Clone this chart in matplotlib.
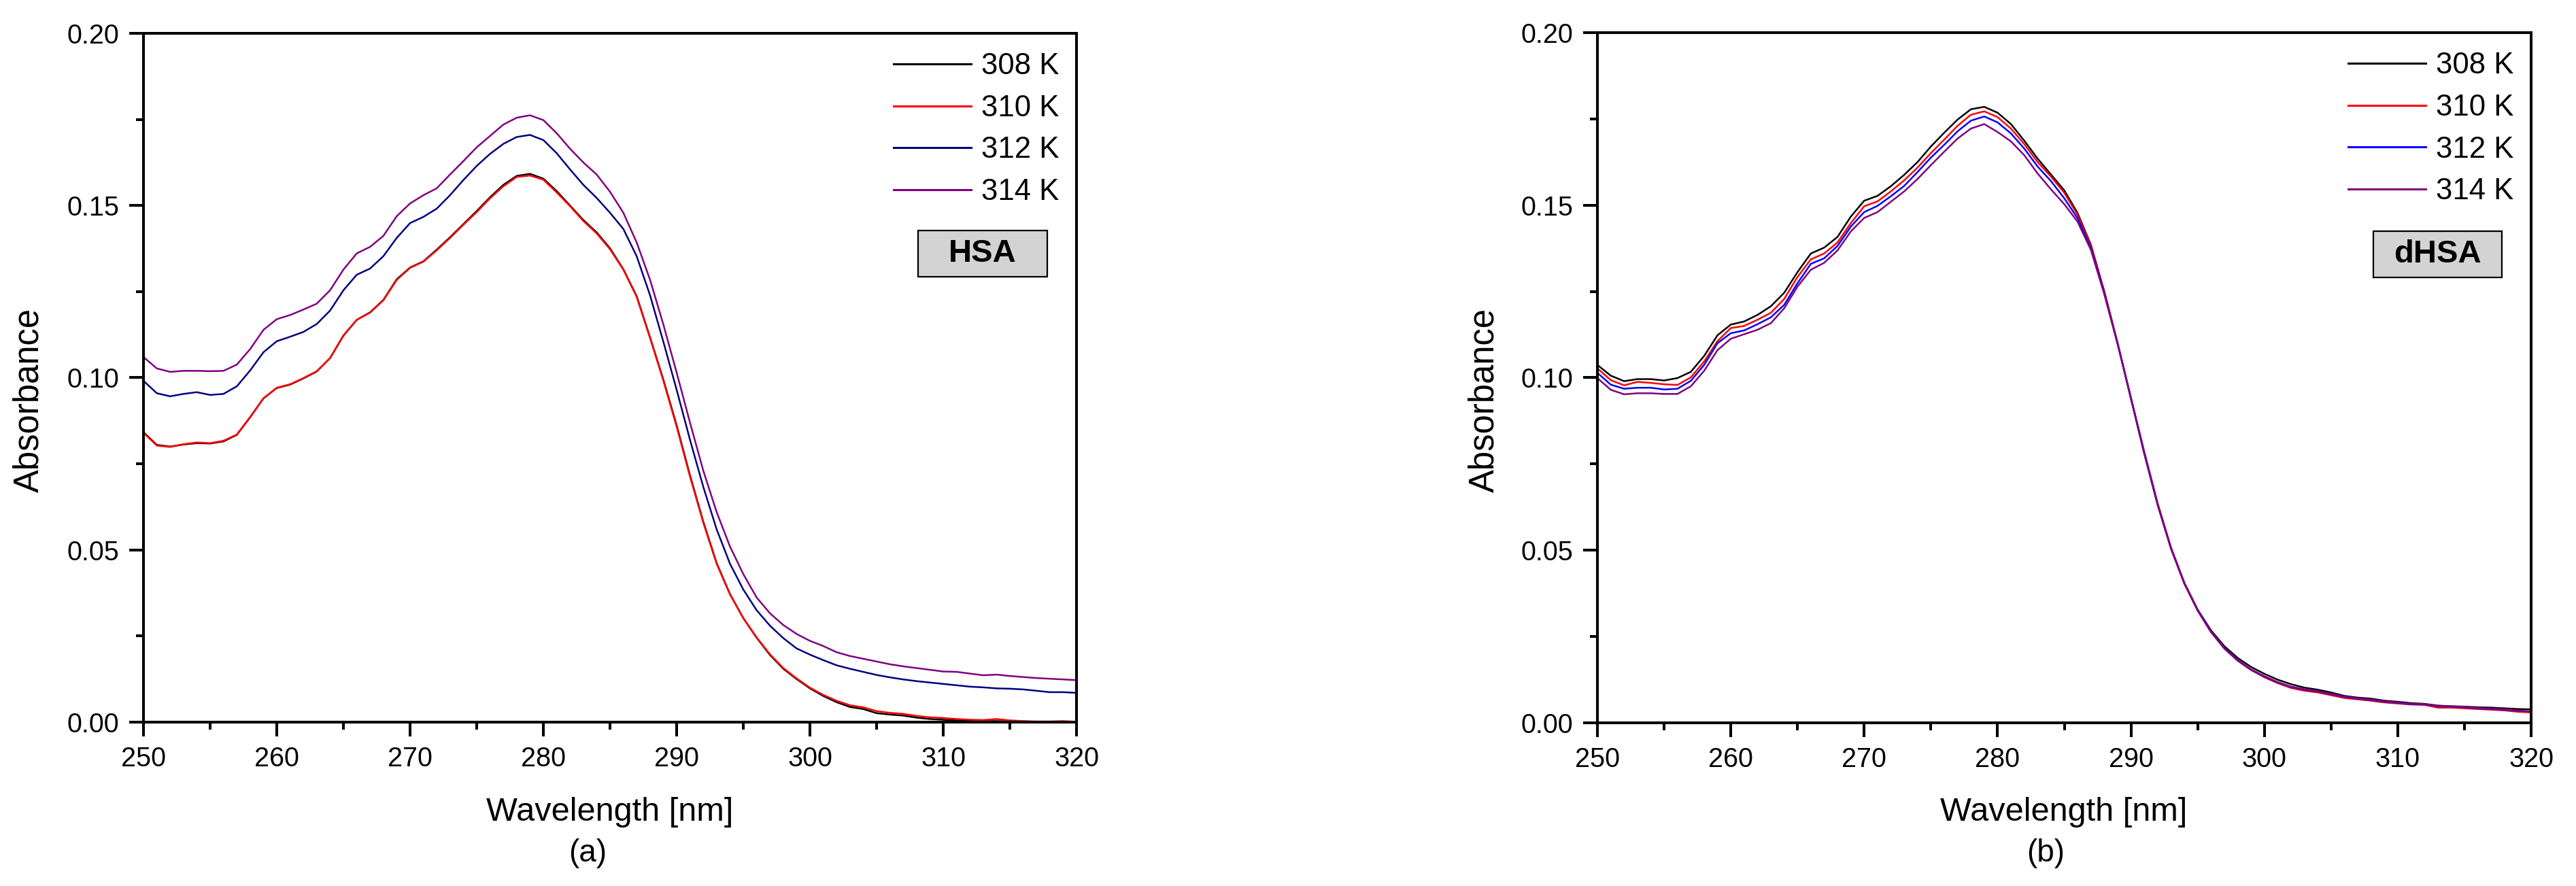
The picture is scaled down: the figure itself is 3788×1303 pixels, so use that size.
import numpy as np
import matplotlib
matplotlib.use("Agg")
import matplotlib.pyplot as plt
from matplotlib.ticker import MultipleLocator, FormatStrFormatter
from matplotlib.patches import Rectangle

plt.rcParams['font.family'] = ['Liberation Sans', 'DejaVu Sans']

wavelength = np.arange(250, 321)
labels = ["308 K", "310 K", "312 K", "314 K"]

hsa_308 = [0.0842, 0.0805, 0.0800, 0.0806, 0.0810, 0.0809, 0.0815, 0.0834, 0.0885, 0.0940,
           0.0970, 0.0980, 0.0998, 0.1018, 0.1057, 0.1122, 0.1168, 0.1190, 0.1226, 0.1286,
           0.1320, 0.1338, 0.1372, 0.1408, 0.1446, 0.1484, 0.1524, 0.1560, 0.1586, 0.1592,
           0.1578, 0.1542, 0.1500, 0.1458, 0.1422, 0.1376, 0.1315, 0.1237, 0.1118, 0.0995,
           0.0862, 0.0717, 0.0582, 0.0462, 0.0372, 0.0302, 0.0245, 0.0195, 0.0155, 0.0125,
           0.0098, 0.0076, 0.0058, 0.0044, 0.0038, 0.0026, 0.0022, 0.0019, 0.0013, 0.0009,
           0.0007, 0.0005, 0.0004, 0.0003, 0.0003, 0.0002, 0.0002, 0.0001, 0.0001, 0.0001, 0.0000]
hsa_310 = [0.0840, 0.0803, 0.0799, 0.0807, 0.0812, 0.0810, 0.0817, 0.0835, 0.0886, 0.0940,
           0.0971, 0.0981, 0.0999, 0.1019, 0.1057, 0.1123, 0.1168, 0.1189, 0.1225, 0.1284,
           0.1319, 0.1337, 0.1370, 0.1406, 0.1444, 0.1481, 0.1521, 0.1556, 0.1583, 0.1587,
           0.1575, 0.1538, 0.1498, 0.1455, 0.1419, 0.1373, 0.1314, 0.1235, 0.1116, 0.0992,
           0.0858, 0.0713, 0.0579, 0.0460, 0.0371, 0.0302, 0.0246, 0.0197, 0.0157, 0.0127,
           0.0100, 0.0079, 0.0062, 0.0049, 0.0043, 0.0032, 0.0027, 0.0024, 0.0018, 0.0014,
           0.0012, 0.0009, 0.0007, 0.0006, 0.0009, 0.0005, 0.0003, 0.0002, 0.0002, 0.0003, 0.0001]
hsa_312 = [0.0991, 0.0955, 0.0946, 0.0953, 0.0958, 0.0950, 0.0953, 0.0975, 0.1021, 0.1074,
           0.1106, 0.1119, 0.1133, 0.1156, 0.1195, 0.1254, 0.1299, 0.1317, 0.1353, 0.1406,
           0.1449, 0.1467, 0.1491, 0.1530, 0.1574, 0.1615, 0.1650, 0.1679, 0.1699, 0.1705,
           0.1690, 0.1652, 0.1605, 0.1560, 0.1522, 0.1479, 0.1432, 0.1353, 0.1240, 0.1105,
           0.0965, 0.0820, 0.0683, 0.0560, 0.0460, 0.0385, 0.0325, 0.0280, 0.0244, 0.0214,
           0.0196, 0.0180, 0.0165, 0.0155, 0.0146, 0.0137, 0.0130, 0.0124, 0.0119, 0.0115,
           0.0111, 0.0107, 0.0103, 0.0101, 0.0098, 0.0097, 0.0095, 0.0091, 0.0087, 0.0087, 0.0085]
hsa_314 = [0.1060, 0.1027, 0.1017, 0.1020, 0.1020, 0.1019, 0.1020, 0.1038, 0.1083, 0.1139,
           0.1170, 0.1182, 0.1198, 0.1215, 0.1254, 0.1314, 0.1361, 0.1380, 0.1412, 0.1469,
           0.1506, 0.1530, 0.1550, 0.1590, 0.1629, 0.1669, 0.1702, 0.1735, 0.1755, 0.1762,
           0.1748, 0.1710, 0.1665, 0.1625, 0.1590, 0.1540, 0.1479, 0.1393, 0.1285, 0.1155,
           0.1015, 0.0870, 0.0730, 0.0610, 0.0510, 0.0430, 0.0362, 0.0316, 0.0282, 0.0256,
           0.0236, 0.0221, 0.0203, 0.0192, 0.0184, 0.0176, 0.0168, 0.0162, 0.0157, 0.0152,
           0.0147, 0.0146, 0.0141, 0.0136, 0.0138, 0.0134, 0.0131, 0.0128, 0.0126, 0.0124, 0.0122]

dhsa_308 = [0.1037, 0.1006, 0.0990, 0.0996, 0.0996, 0.0992, 0.0999, 0.1017, 0.1063, 0.1123,
            0.1154, 0.1163, 0.1182, 0.1207, 0.1246, 0.1306, 0.1360, 0.1377, 0.1408, 0.1467,
            0.1513, 0.1527, 0.1555, 0.1588, 0.1625, 0.1670, 0.1710, 0.1748, 0.1778, 0.1785,
            0.1768, 0.1735, 0.1687, 0.1635, 0.1589, 0.1543, 0.1477, 0.1385, 0.1250, 0.1100,
            0.0940, 0.0780, 0.0632, 0.0505, 0.0405, 0.0328, 0.0268, 0.0222, 0.0188, 0.0162,
            0.0142, 0.0125, 0.0112, 0.0102, 0.0096, 0.0088, 0.0078, 0.0073, 0.0070, 0.0064,
            0.0061, 0.0057, 0.0055, 0.0050, 0.0048, 0.0047, 0.0045, 0.0044, 0.0042, 0.0040, 0.0039]
dhsa_310 = [0.1027, 0.0993, 0.0978, 0.0988, 0.0985, 0.0981, 0.0979, 0.1001, 0.1047, 0.1106,
            0.1144, 0.1150, 0.1168, 0.1188, 0.1228, 0.1292, 0.1343, 0.1360, 0.1392, 0.1448,
            0.1497, 0.1511, 0.1540, 0.1572, 0.1609, 0.1651, 0.1690, 0.1730, 0.1762, 0.1772,
            0.1755, 0.1722, 0.1677, 0.1625, 0.1583, 0.1536, 0.1472, 0.1382, 0.1250, 0.1100,
            0.0940, 0.0780, 0.0632, 0.0505, 0.0403, 0.0325, 0.0263, 0.0215, 0.0180, 0.0153,
            0.0132, 0.0115, 0.0101, 0.0093, 0.0088, 0.0080, 0.0072, 0.0068, 0.0064, 0.0059,
            0.0056, 0.0053, 0.0052, 0.0044, 0.0044, 0.0042, 0.0040, 0.0038, 0.0036, 0.0032, 0.0030]
dhsa_312 = [0.1014, 0.0980, 0.0968, 0.0971, 0.0971, 0.0966, 0.0968, 0.0991, 0.1037, 0.1100,
            0.1129, 0.1137, 0.1155, 0.1175, 0.1211, 0.1274, 0.1330, 0.1346, 0.1382, 0.1438,
            0.1480, 0.1498, 0.1526, 0.1556, 0.1596, 0.1638, 0.1675, 0.1714, 0.1745, 0.1757,
            0.1740, 0.1708, 0.1664, 0.1612, 0.1570, 0.1520, 0.1462, 0.1375, 0.1245, 0.1098,
            0.0940, 0.0782, 0.0634, 0.0507, 0.0405, 0.0326, 0.0264, 0.0216, 0.0181, 0.0154,
            0.0134, 0.0117, 0.0104, 0.0096, 0.0091, 0.0083, 0.0075, 0.0070, 0.0066, 0.0061,
            0.0058, 0.0054, 0.0053, 0.0048, 0.0047, 0.0045, 0.0042, 0.0040, 0.0038, 0.0035, 0.0033]
dhsa_314 = [0.0999, 0.0965, 0.0952, 0.0955, 0.0955, 0.0953, 0.0953, 0.0975, 0.1020, 0.1080,
            0.1113, 0.1126, 0.1139, 0.1158, 0.1201, 0.1264, 0.1313, 0.1333, 0.1369, 0.1424,
            0.1463, 0.1480, 0.1510, 0.1540, 0.1576, 0.1616, 0.1655, 0.1693, 0.1722, 0.1735,
            0.1712, 0.1685, 0.1645, 0.1592, 0.1546, 0.1503, 0.1452, 0.1370, 0.1242, 0.1098,
            0.0942, 0.0785, 0.0636, 0.0508, 0.0406, 0.0327, 0.0265, 0.0217, 0.0182, 0.0155,
            0.0135, 0.0118, 0.0105, 0.0097, 0.0092, 0.0084, 0.0076, 0.0071, 0.0067, 0.0062,
            0.0059, 0.0055, 0.0054, 0.0049, 0.0048, 0.0046, 0.0043, 0.0041, 0.0039, 0.0036, 0.0032]

hsa_colors = ["#000000", "#ff0000", "#000080", "#800080"]
dhsa_colors = ["#000000", "#ff0000", "#0000ff", "#800080"]

W, H = 3788, 1303
fig = plt.figure(figsize=(W / 100, H / 100), dpi=100)

def px_axes(x0, y_top, x1, y_bot):
    return [x0 / W, 1 - y_bot / H, (x1 - x0) / W, (y_bot - y_top) / H]

ax1 = fig.add_axes(px_axes(211, 49, 1583, 1062))
ax2 = fig.add_axes(px_axes(2349, 48, 3722, 1063))

def style(ax, series, colors, tag, box):
    for ys, c, lab in zip(series, colors, labels):
        ax.plot(wavelength, ys, color=c, lw=1.8, label=lab)
    ax.set_xlim(250, 320)
    ax.set_ylim(0, 0.2)
    ax.xaxis.set_major_locator(MultipleLocator(10))
    ax.xaxis.set_minor_locator(MultipleLocator(5))
    ax.yaxis.set_major_locator(MultipleLocator(0.05))
    ax.yaxis.set_minor_locator(MultipleLocator(0.025))
    ax.yaxis.set_major_formatter(FormatStrFormatter('%.2f'))
    for sp in ax.spines.values():
        sp.set_linewidth(2.9)
    ax.tick_params(which='both', direction='out', top=False, right=False, width=2.9)
    ax.tick_params(which='major', length=15, pad=10.5, labelsize=28.5)
    ax.tick_params(which='minor', length=8)
    leg = ax.legend(loc='upper right', bbox_to_anchor=(0.981, 0.972), frameon=False,
                    fontsize=31.5, handlelength=2.6, handletextpad=0.33,
                    labelspacing=0.47, borderpad=0, borderaxespad=0)
    for l in leg.get_lines():
        l.set_linewidth(2.2)
    x0, y0, x1, y1 = box
    ax.add_patch(Rectangle((x0, y0), x1 - x0, y1 - y0, transform=ax.transAxes,
                           facecolor='#d3d3d3', edgecolor='black', lw=1.6, zorder=5))
    ax.text((x0 + x1) / 2, (y0 + y1) / 2, tag, transform=ax.transAxes, ha='center',
            va='center', fontsize=34, fontweight='bold', zorder=6)

style(ax1, [hsa_308, hsa_310, hsa_312, hsa_314], hsa_colors, "HSA",
      (0.830, 0.6466, 0.9687, 0.7137))
style(ax2, [dhsa_308, dhsa_310, dhsa_312, dhsa_314], dhsa_colors, "dHSA",
      (0.831, 0.6453, 0.9687, 0.7123))

# axis labels and panel captions
fig.text(43 / W, 1 - 588 / H, "Absorbance", rotation=90, ha='center', va='center', fontsize=36.5)
fig.text(2183 / W, 1 - 588 / H, "Absorbance", rotation=90, ha='center', va='center', fontsize=36.5)
fig.text(897 / W, 1 - 1207 / H, "Wavelength [nm]", ha='center', va='baseline', fontsize=35)
fig.text(3035 / W, 1 - 1207 / H, "Wavelength [nm]", ha='center', va='baseline', fontsize=35)
fig.text(864 / W, 1 - 1267 / H, "(a)", ha='center', va='baseline', fontsize=33)
fig.text(3008 / W, 1 - 1267 / H, "(b)", ha='center', va='baseline', fontsize=33)

fig.savefig("out.png", dpi=100)
